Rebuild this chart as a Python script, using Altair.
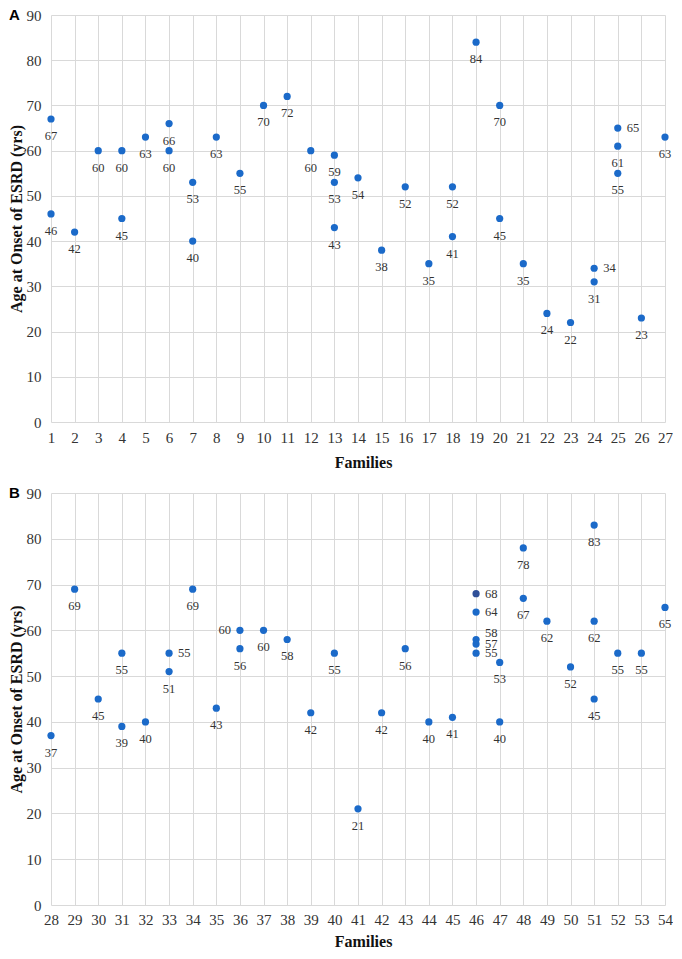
import altair as alt
import pandas as pd

# ---------------- data ----------------
famA = [1, 1, 2, 3, 4, 4, 5, 6, 6, 7, 7, 8, 9, 10, 11, 12, 13, 13, 13, 14, 15, 16,
        17, 18, 18, 19, 20, 20, 21, 22, 23, 24, 24, 25, 25, 25, 26, 27]
ageA = [67, 46, 42, 60, 60, 45, 63, 66, 60, 53, 40, 63, 55, 70, 72, 60, 59, 53, 43, 54, 38, 52,
        35, 52, 41, 84, 70, 45, 35, 24, 22, 34, 31, 65, 61, 55, 23, 63]
sideA = ["b", "b", "b", "b", "b", "b", "b", "b", "b", "b", "b", "b", "b", "b", "b", "b", "b", "b", "b", "b", "b", "b",
         "b", "b", "b", "b", "b", "b", "b", "b", "b", "r", "b", "r", "b", "b", "b", "b"]

famB = [28, 29, 30, 31, 31, 32, 33, 33, 34, 35, 36, 36, 37, 38, 39, 40, 41, 42, 43, 44, 45,
        46, 46, 46, 46, 46, 47, 47, 48, 48, 49, 50, 51, 51, 51, 52, 53, 54]
ageB = [37, 69, 45, 55, 39, 40, 55, 51, 69, 43, 60, 56, 60, 58, 42, 55, 21, 42, 56, 40, 41,
        68, 64, 58, 57, 55, 53, 40, 78, 67, 62, 52, 83, 62, 45, 55, 55, 65]
sideB = ["b", "b", "b", "b", "b", "b", "r", "b", "b", "b", "l", "b", "b", "b", "b", "b", "b", "b", "b", "b", "b",
         "r", "r", "ru", "rm", "r", "b", "b", "b", "b", "b", "b", "b", "b", "b", "b", "b", "b"]
highlight = [(46, 68)]

SERIF = "Liberation Serif, Times New Roman, serif"
BLUE = "#1B6AC9"
DARK = "#2F4F98"
GRID = "#d9d9d9"
TXT = "#333333"
PW = 614


def panel(fams, ages, sides, lo, hi, letter, title, height, lpad, tpad):
    df = pd.DataFrame({"family": fams, "age": ages, "side": sides})
    df["hl"] = [(f, a) in highlight for f, a in zip(fams, ages)]
    xs = alt.X("family:Q", scale=alt.Scale(domain=[lo, hi], nice=False, zero=False),
               axis=alt.Axis(values=list(range(lo, hi + 1)), title="Families",
                             labelFont=SERIF, labelFontSize=15, labelColor=TXT,
                             titleFont=SERIF, titleFontSize=16, titleFontWeight="bold", titleColor="#111",
                             titleX=PW / 2 + 5, titlePadding=tpad,
                             ticks=False, domain=False, labelPadding=lpad,
                             gridColor=GRID, labelFlush=False))
    ys = alt.Y("age:Q", scale=alt.Scale(domain=[0, 90], nice=False),
               axis=alt.Axis(values=list(range(0, 91, 10)), title=title,
                             labelFont=SERIF, labelFontSize=15, labelColor=TXT,
                             titleFont=SERIF, titleFontSize=16, titleFontWeight="bold", titleColor="#111",
                             titleX=-35, titleY=height / 2, titleBaseline="middle", titleAngle=-90,
                             ticks=False, domain=False, labelPadding=10, gridColor=GRID))
    base = alt.Chart(df).encode(x=xs, y=ys)
    pts = base.mark_circle(size=52, opacity=1).encode(
        color=alt.condition("datum.hl", alt.value(DARK), alt.value(BLUE)))
    tkw = dict(font=SERIF, fontSize=12.5, color=TXT)
    below = base.transform_filter("datum.side == 'b'").mark_text(dy=17, baseline="middle", **tkw).encode(text="age:Q")
    right = base.transform_filter("datum.side == 'r'").mark_text(dx=9, align="left", baseline="middle", **tkw).encode(text="age:Q")
    rightu = base.transform_filter("datum.side == 'ru'").mark_text(dx=9, dy=-6, align="left", baseline="middle", **tkw).encode(text="age:Q")
    rightm = base.transform_filter("datum.side == 'rm'").mark_text(dx=9, dy=0, align="left", baseline="middle", **tkw).encode(text="age:Q")
    left = base.transform_filter("datum.side == 'l'").mark_text(dx=-9, align="right", baseline="middle", **tkw).encode(text="age:Q")
    lab = alt.Chart(pd.DataFrame({"t": [letter]})).mark_text(
        font="Liberation Sans, Arial, sans-serif", fontSize=15, fontWeight="bold", color="#000",
        align="left", baseline="middle").encode(text="t:N", x=alt.value(-42), y=alt.value(0))
    return alt.layer(pts, below, right, rightu, rightm, left, lab).properties(width=PW, height=height)


chartA = panel(famA, ageA, sideA, 1, 27, "A", "Age at Onset of ESRD (yrs)", 407, 8, 9)
chartB = panel(famB, ageB, sideB, 28, 54, "B", "Age at  Onset of ESRD (yrs)", 412, 7, 6)

chart = alt.vconcat(chartA, chartB, spacing=16, padding=0).configure_view(stroke=None)
chart.save("out.html", embed_options={"renderer": "svg", "actions": False})
